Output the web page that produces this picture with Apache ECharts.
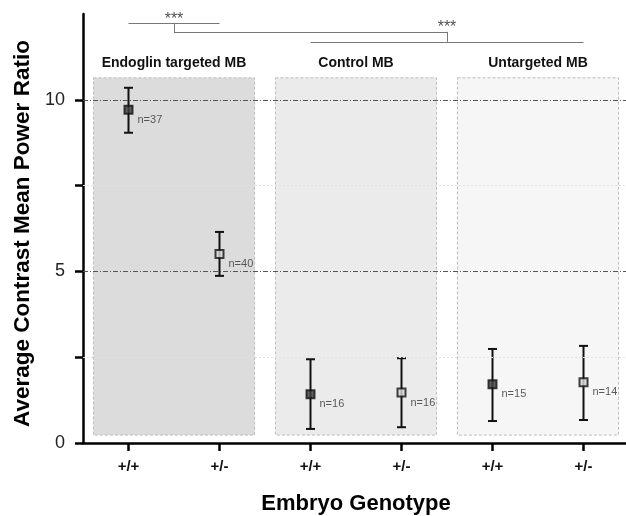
<!DOCTYPE html>
<html>
<head>
<meta charset="utf-8">
<script src="https://cdn.jsdelivr.net/npm/echarts@6/dist/echarts.min.js"></script>
<style>
  html, body { margin: 0; padding: 0; background: #fff; }
  #chart { width: 626px; height: 516px; }
</style>
</head>
<body>
<div id="chart"></div>
<script>
  // data
  var categories = ['+/+', '+/-', '+/+', '+/-', '+/+', '+/-'];
  var means = [9.71, 5.51, 1.42, 1.47, 1.71, 1.77];
  var upper = [10.35, 6.15, 2.44, 2.47, 2.74, 2.83];
  var lower = [9.04, 4.87, 0.41, 0.46, 0.64, 0.67];
  var counts = [37, 40, 16, 16, 15, 14];
  var groups = ['Endoglin targeted MB', 'Control MB', 'Untargeted MB'];
  var yTicks = [0, 2.5, 5, 7.5, 10];
  var yLabels = [0, 5, 10];
  var refLines = [5, 10];
  var faintLines = [2.5, 7.5];

  var FONT = '"Liberation Sans", Arial, sans-serif';
  var groupFill = ['#dcdcdc', '#ebebeb', '#f6f6f6'];

  var myChart = echarts.init(document.getElementById('chart'));

  // shaded boxes behind each pair of genotypes
  var areas = groups.map(function (g, i) {
    var c = i * 2 + 0.5;
    return [
      { name: g, coord: [c - 0.885, 10.64], itemStyle: { color: groupFill[i] } },
      { coord: [c + 0.885, 0.23] }
    ];
  });

  // significance brackets
  var seg = function (x1, y1, x2, y2) {
    return [{ coord: [x1, y1] }, { coord: [x2, y2] }];
  };
  var bracketLines = [
    seg(0, 12.24, 1, 12.24),
    seg(0.5, 12.24, 0.5, 11.98),
    seg(0.5, 11.98, 3.5, 11.98),
    seg(3.5, 11.98, 3.5, 11.69),
    seg(2, 11.69, 5, 11.69)
  ];

  var lineMarks = refLines.map(function (v) {
    return { yAxis: v, lineStyle: { color: '#555', type: [5, 2, 1, 2], width: 1 } };
  }).concat(faintLines.map(function (v) {
    return { yAxis: v, lineStyle: { color: '#e2e2e2', type: [2, 2], width: 1 } };
  }));

  var option = {
    animation: false,
    backgroundColor: '#fff',
    grid: { left: 83, top: 14, bottom: 73, width: 546, outerBoundsMode: 'none', containLabel: false },
    xAxis: [
      {
        type: 'category',
        data: categories,
        position: 'bottom',
        axisLine: { onZero: false, lineStyle: { color: '#000', width: 2.5 } },
        axisTick: { show: true, alignWithLabel: true, length: 8, lineStyle: { color: '#000', width: 2.5 } },
        axisLabel: { color: '#111', fontSize: 15, fontWeight: 'bold', fontFamily: FONT, margin: 16 },
        splitLine: { show: false },
        name: 'Embryo Genotype',
        nameLocation: 'middle',
        nameGap: 50,
        nameTextStyle: { color: '#000', fontSize: 22, fontWeight: 'bold', fontFamily: FONT }
      },
      {
        type: 'value',
        min: -0.5,
        max: 5.5,
        show: false
      }
    ],
    yAxis: {
      type: 'value',
      min: 0,
      max: 12.5,
      interval: 2.5,
      axisLine: { show: true, onZero: false, lineStyle: { color: '#000', width: 2.5 } },
      axisTick: { show: true, length: 8, customValues: yTicks, lineStyle: { color: '#000', width: 2.5 } },
      axisLabel: { customValues: yLabels, color: '#222', fontSize: 18, fontFamily: FONT, margin: 18 },
      splitLine: { show: false },
      name: 'Average Contrast Mean Power Ratio',
      nameLocation: 'middle',
      nameGap: 49,
      nameTextStyle: { color: '#000', fontSize: 22.5, fontWeight: 'bold', fontFamily: FONT, padding: [0, 10, 0, 0] }
    },
    series: [
      {
        type: 'line',
        xAxisIndex: 1,
        data: [],
        silent: true,
        markArea: {
          silent: true,
          itemStyle: { borderColor: '#bdbdbd', borderWidth: 1, borderType: [3, 2] },
          label: {
            show: true,
            position: 'top',
            distance: 7,
            color: '#111',
            fontSize: 14,
            fontWeight: 'bold',
            fontFamily: FONT
          },
          data: areas
        }
      },
      {
        type: 'line',
        xAxisIndex: 1,
        data: [],
        silent: true,
        markLine: {
          silent: true,
          symbol: ['none', 'none'],
          label: { show: false },
          data: lineMarks
        }
      },
      {
        type: 'line',
        xAxisIndex: 1,
        data: [],
        silent: true,
        markLine: {
          silent: true,
          symbol: ['none', 'none'],
          label: { show: false },
          lineStyle: { color: '#777', width: 1, type: 'solid' },
          data: bracketLines
        }
      },
      {
        type: 'scatter',
        xAxisIndex: 1,
        symbolSize: 1,
        itemStyle: { color: 'rgba(0,0,0,0)' },
        label: {
          show: true,
          position: 'inside',
          formatter: '***',
          color: '#222',
          fontSize: 16,
          fontFamily: FONT
        },
        data: [[0.5, 12.33], [3.5, 12.1]]
      },
      {
        type: 'custom',
        xAxisIndex: 0,
        renderItem: function (params, api) {
          var x = api.value(0);
          var lo = api.coord([x, api.value(1)]);
          var hi = api.coord([x, api.value(2)]);
          var w = 4.5;
          var st = { stroke: '#111', lineWidth: 2 };
          return {
            type: 'group',
            children: [
              { type: 'line', shape: { x1: lo[0], y1: lo[1], x2: hi[0], y2: hi[1] }, style: st },
              { type: 'line', shape: { x1: lo[0] - w, y1: lo[1], x2: lo[0] + w, y2: lo[1] }, style: st },
              { type: 'line', shape: { x1: hi[0] - w, y1: hi[1], x2: hi[0] + w, y2: hi[1] }, style: st }
            ]
          };
        },
        data: means.map(function (m, i) { return [i, lower[i], upper[i]]; }),
        z: 3
      },
      {
        type: 'scatter',
        xAxisIndex: 0,
        symbol: 'rect',
        symbolSize: 8,
        z: 4,
        label: {
          show: true,
          position: 'right',
          distance: 4,
          offset: [0, 10],
          color: '#333',
          fontSize: 11,
          fontFamily: FONT
        },
        data: means.map(function (m, i) {
          return {
            value: [i, m],
            label: { formatter: 'n=' + counts[i] },
            itemStyle: {
              color: categories[i] === '+/+' ? '#404040' : '#d8d8d8',
              borderColor: '#111',
              borderWidth: 2
            }
          };
        })
      }
    ]
  };

  myChart.setOption(option);
</script>
</body>
</html>
